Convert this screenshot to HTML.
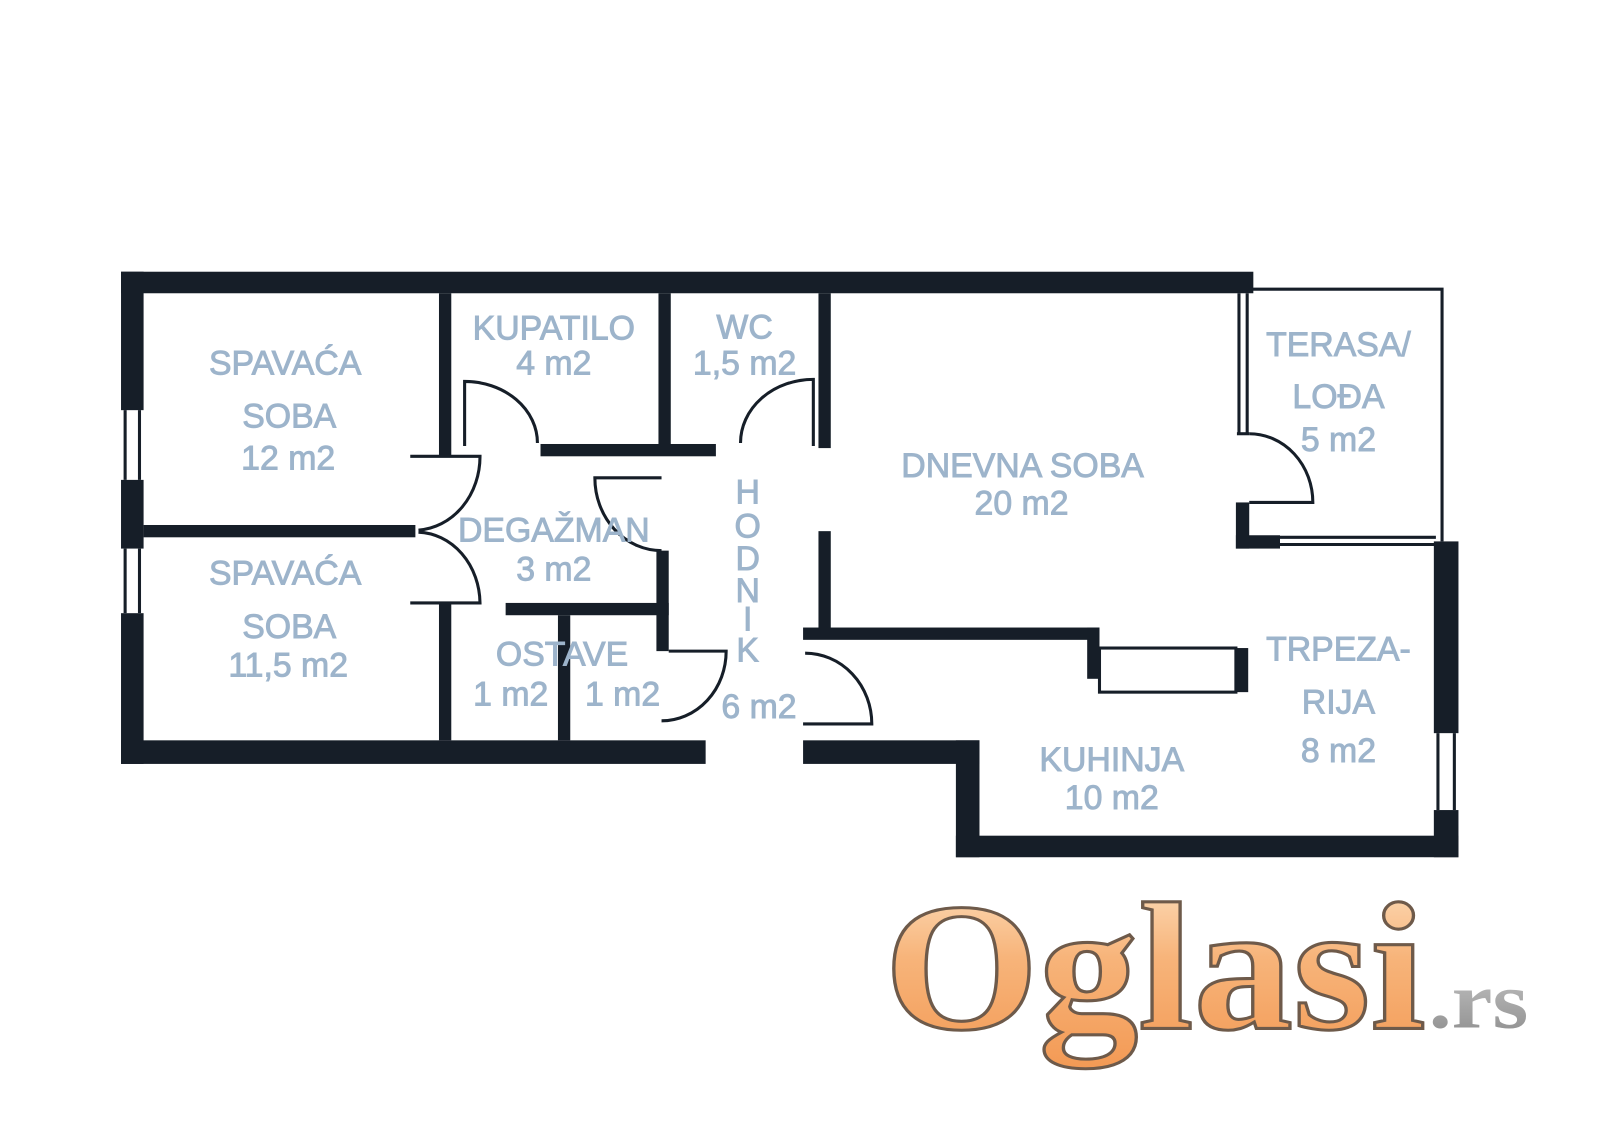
<!DOCTYPE html>
<html><head><meta charset="utf-8"><style>
html,body{margin:0;padding:0;background:#fff;}
svg{display:block;}
.l{font-family:"Liberation Sans",sans-serif;font-size:33px;fill:#9db4cb;stroke:#9db4cb;stroke-width:0.9;text-anchor:middle;}
</style></head><body>
<svg width="1600" height="1131" viewBox="0 0 1560 1103" preserveAspectRatio="none" xmlns="http://www.w3.org/2000/svg">
<defs>
<linearGradient id="og" x1="0" y1="0" x2="0" y2="1">
<stop offset="0" stop-color="#fde2c2"/><stop offset="0.45" stop-color="#f7b47a"/><stop offset="1" stop-color="#f39a55"/>
</linearGradient>
<linearGradient id="gr" x1="0" y1="0" x2="0" y2="1">
<stop offset="0" stop-color="#c8c8c8"/><stop offset="1" stop-color="#8a8a8a"/>
</linearGradient>
</defs>
<g fill="#161e28">
<rect x="118" y="265" width="1104" height="21"/>
<rect x="118" y="265" width="22" height="135"/>
<rect x="118" y="468" width="22" height="67"/>
<rect x="118" y="598" width="22" height="147"/>
<rect x="118" y="722" width="570" height="23"/>
<rect x="783" y="722" width="172" height="23"/>
<rect x="932" y="722" width="23" height="114"/>
<rect x="932" y="815" width="490" height="21"/>
<rect x="1398" y="528" width="24" height="187"/>
<rect x="1398" y="790" width="24" height="46"/>
<rect x="428" y="286" width="12" height="159"/>
<rect x="140" y="512" width="265" height="12"/>
<rect x="428" y="588" width="12" height="134"/>
<rect x="642" y="286" width="12" height="154"/>
<rect x="527" y="433" width="171" height="12"/>
<rect x="798" y="286" width="12" height="151"/>
<rect x="640" y="537" width="12" height="98"/>
<rect x="493" y="588" width="159" height="12"/>
<rect x="544" y="600" width="12" height="122"/>
<rect x="798" y="518" width="12" height="97"/>
<rect x="783" y="612" width="289" height="12"/>
<rect x="1060" y="612" width="12" height="50"/>
<rect x="1205" y="632" width="12" height="43"/>
<rect x="1205" y="490" width="13" height="45"/>
<rect x="1205" y="522" width="43" height="13"/>
</g>
<g fill="none" stroke="#161e28" stroke-width="3">
<line x1="122" y1="400" x2="122" y2="468"/><line x1="136" y1="400" x2="136" y2="468"/>
<line x1="122" y1="535" x2="122" y2="598"/><line x1="136" y1="535" x2="136" y2="598"/>
<line x1="1402" y1="715" x2="1402" y2="790"/><line x1="1418" y1="715" x2="1418" y2="790"/>
<polyline points="1218,282 1406,282 1406,528"/>
<line x1="1208" y1="286" x2="1208" y2="423"/><line x1="1216" y1="286" x2="1216" y2="423"/>
<line x1="1206" y1="423" x2="1218" y2="423"/>
<line x1="1248" y1="524" x2="1400" y2="524"/><line x1="1248" y1="531" x2="1400" y2="531"/>
<path d="M1218,423 A62,67 0 0 1 1280,490 L1218,490"/>
<path d="M400,445 L468,445 A64,72 0 0 1 408,517"/>
<path d="M408,519 A62,70 0 0 1 468,588 L400,588"/>
<path d="M453,435 L453,372 A71,60 0 0 1 524,432"/>
<path d="M793,435 L793,370 A71,62 0 0 0 722,432"/>
<path d="M645,466 L580,466 A65,71 0 0 0 645,537"/>
<path d="M652,635 L708,635 A63,68 0 0 1 645,703"/>
<path d="M785,637 A65,69 0 0 1 850,706 L783,706"/>
<rect x="1072" y="632" width="133" height="43"/>
</g>
<g class="l">
<text x="278" y="365">SPAVAĆA</text>
<text x="282" y="417">SOBA</text>
<text x="281" y="458">12 m2</text>
<text x="540" y="331">KUPATILO</text>
<text x="540" y="365">4 m2</text>
<text x="726" y="330">WC</text>
<text x="726" y="365">1,5 m2</text>
<text x="997" y="465">DNEVNA SOBA</text>
<text x="996" y="502">20 m2</text>
<text x="1305" y="347">TERASA/</text>
<text x="1305" y="398">LOĐA</text>
<text x="1305" y="440">5 m2</text>
<text x="540" y="528">DEGAŽMAN</text>
<text x="540" y="566">3 m2</text>
<text x="278" y="570">SPAVAĆA</text>
<text x="282" y="622">SOBA</text>
<text x="281" y="660">11,5 m2</text>
<text x="548" y="649">OSTAVE</text>
<text x="498" y="688">1 m2</text>
<text x="607" y="688">1 m2</text>
<text x="740" y="700">6 m2</text>
<text x="1305" y="644">TRPEZA-</text>
<text x="1305" y="696">RIJA</text>
<text x="1305" y="743">8 m2</text>
<text x="1084" y="752">KUHINJA</text>
<text x="1084" y="789">10 m2</text>
<text x="729" y="491">H</text>
<text x="729" y="524">O</text>
<text x="729" y="556">D</text>
<text x="729" y="587">N</text>
<text x="729" y="615">I</text>
<text x="729" y="645">K</text>
</g>
<text x="862" y="1003" textLength="528" lengthAdjust="spacingAndGlyphs" font-family="Liberation Serif,serif" font-weight="bold" font-size="178" fill="url(#og)" stroke="#6e5a4a" stroke-width="3">Oglasi</text>
<text x="1393" y="1002" textLength="97" lengthAdjust="spacingAndGlyphs" font-family="Liberation Serif,serif" font-weight="bold" font-size="78" fill="url(#gr)">.rs</text>
</svg>
</body></html>
